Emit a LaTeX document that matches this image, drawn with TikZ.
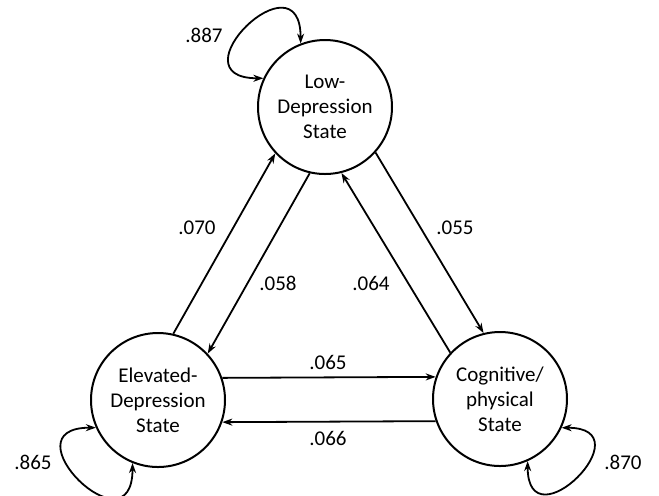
\documentclass[tikz,border=0pt]{standalone}
\usepackage{fontspec}
\setmainfont{Carlito}
\usetikzlibrary{arrows.meta}
\tikzset{%
  state/.style = {shape=circle, draw, line width=1pt,%
                  minimum size=67pt, inner sep=0pt, align=center},%
  trans/.style = {line width=0.9pt, -{Stealth[length=5pt,width=3.5pt]}},%
  selfloop/.style = {line width=0.9pt, looseness=4.6,%
                     {Stealth[length=5pt,width=3.5pt]}-{Stealth[length=5pt,width=3.5pt]}}%
}
\begin{document}
\begin{tikzpicture}[x=0.5pt, y=-0.5pt,
	every node/.style={font=\fontsize{10.5}{12.5}\selectfont}]
	\useasboundingbox (0,0) rectangle (659,495);
	% the three states
	\node [state] (low)  at (325,107) {Low-\\Depression\\State};
	\node [state] (elev) at (158,400) {Elevated-\\Depression\\State};
	\node [state] (cogn) at (500,399) {Cognitive/\\physical\\State};
	% transitions
	\draw [trans] (elev.77)  -- (low.223);
	\draw [trans] (low.257)  -- (elev.43);
	\draw [trans] (cogn.137) -- (low.284);
	\draw [trans] (low.318)  -- (cogn.104);
	\draw [trans] (elev.19)  -- (cogn.161);
	\draw [trans] (cogn.199) -- (elev.341);
	% staying in the same state
	\draw [selfloop] (low.155) to[out=180,in=90] (low.111);
	\draw [selfloop] (elev.204) to[out=180,in=-90] (elev.248);
	\draw [selfloop] (cogn.335) to[out=0,in=-90] (cogn.294);
	% probabilities
	\node (p887) at (204,35)  {.887};
	\node (p865) at (33,462)  {.865};
	\node (p870) at (623,462) {.870};
	\node (p070) at (197,228) {.070};
	\node (p058) at (278,283) {.058};
	\node (p064) at (371,283) {.064};
	\node (p055) at (455,228) {.055};
	\node (p065) at (328,362) {.065};
	\node (p066) at (328,438) {.066};
\end{tikzpicture}
\end{document}
